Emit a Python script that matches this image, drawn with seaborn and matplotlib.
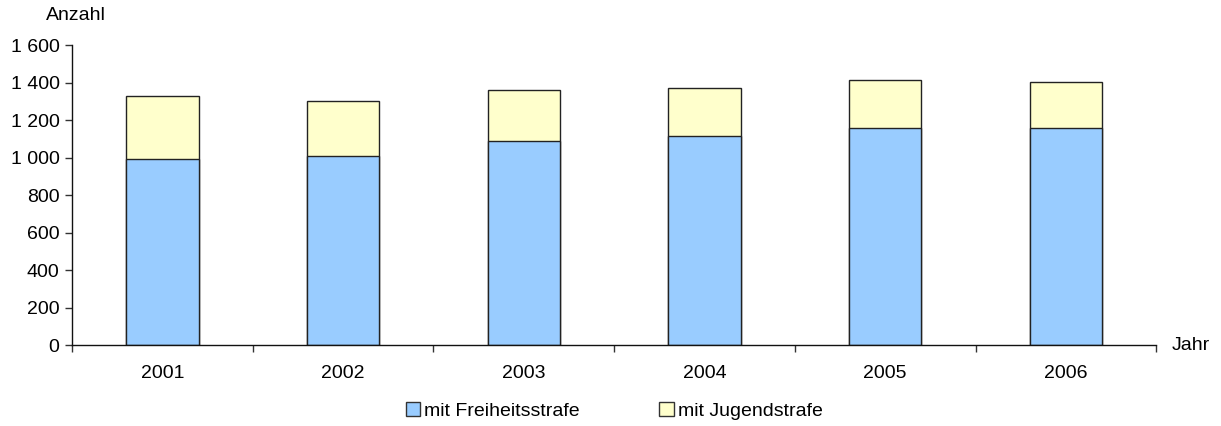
import matplotlib
matplotlib.use("Agg")
import matplotlib.pyplot as plt
from matplotlib.ticker import FuncFormatter, FixedLocator
from matplotlib.patches import Patch
import seaborn as sns
import pandas as pd

years = ["2001", "2002", "2003", "2004", "2005", "2006"]
freiheitsstrafe = [995, 1010, 1091, 1113, 1156, 1159]
jugendstrafe = [335, 293, 269, 261, 256, 247]

df = pd.DataFrame({"Jahr": years, "frei": freiheitsstrafe, "jugend": jugendstrafe})
df["gesamt"] = df["frei"] + df["jugend"]

sns.set_style("white")
plt.rcParams["font.family"] = ["Liberation Sans", "DejaVu Sans"]
plt.rcParams["text.color"] = "black"
plt.rcParams["xtick.labelcolor"] = "black"
plt.rcParams["ytick.labelcolor"] = "black"

fig = plt.figure(figsize=(12.21, 4.26), dpi=100)
ax = fig.add_axes([0.059, 0.19, 0.888, 0.704])

blue = "#99CCFF"
yellow = "#FFFFCC"
fs = 14

# total first (yellow), then the lower part in blue on top of it
sns.barplot(data=df, x="Jahr", y="gesamt", color=yellow, width=0.4,
            edgecolor="#222222", linewidth=1, saturation=1, ax=ax)
sns.barplot(data=df, x="Jahr", y="frei", color=blue, width=0.4,
            edgecolor="#222222", linewidth=1, saturation=1, ax=ax)

ax.set_xlim(-0.5, len(years) - 0.5)
ax.set_ylim(0, 1600)
ax.set_yticks(range(0, 1601, 200))
ax.yaxis.set_major_formatter(FuncFormatter(lambda v, p: f"{int(v):,}".replace(",", " ")))

ax.xaxis.set_minor_locator(FixedLocator([i - 0.5 for i in range(len(years) + 1)]))
ax.tick_params(axis="x", which="major", length=0, pad=14, labelsize=fs)
ax.tick_params(axis="x", which="minor", length=5, width=1, color="#333333", direction="out", bottom=True)
ax.tick_params(axis="y", length=5, width=1, color="#333333", direction="out", left=True, labelsize=fs, pad=4)

for s in ["top", "right"]:
    ax.spines[s].set_visible(False)
for s in ["left", "bottom"]:
    ax.spines[s].set_color("#111111")
    ax.spines[s].set_linewidth(1)

ax.set_xlabel("")
ax.set_ylabel("")
fig.text(0.038, 0.963, "Anzahl", fontsize=fs, ha="left", va="center")
fig.text(0.960, 0.19, "Jahr", fontsize=fs, ha="left", va="center")

handles = [Patch(facecolor=blue, edgecolor="#333333", label="mit Freiheitsstrafe"),
           Patch(facecolor=yellow, edgecolor="#333333", label="mit Jugendstrafe")]
fig.legend(handles=handles, loc="center", bbox_to_anchor=(0.503, 0.035), ncol=2,
           frameon=False, fontsize=fs, handlelength=0.75, handleheight=0.75,
           handletextpad=0.2, columnspacing=4.1)

fig.savefig("out.png", dpi=100)
